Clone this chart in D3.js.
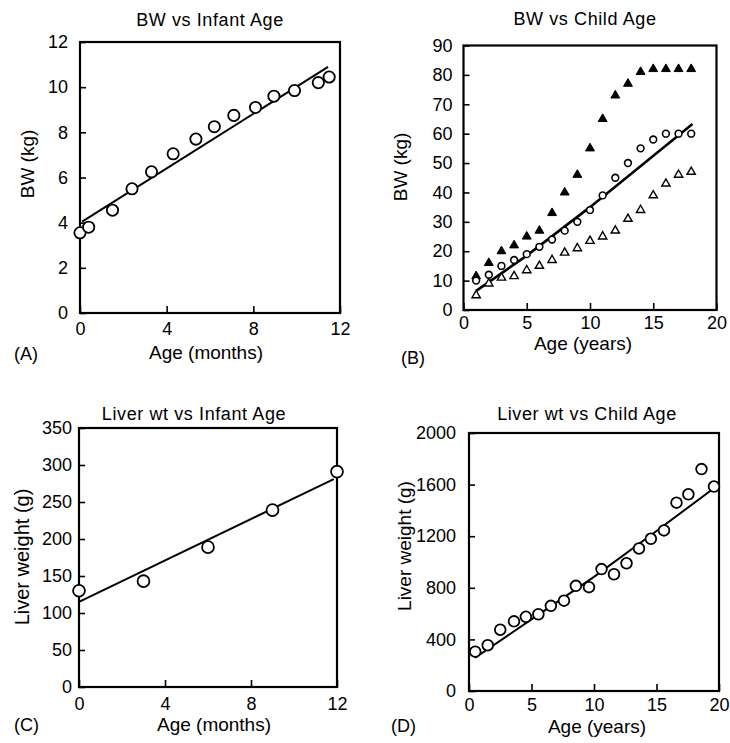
<!DOCTYPE html>
<html>
<head>
<meta charset="utf-8">
<script src="https://cdn.jsdelivr.net/npm/d3@7"></script>
<style>
  html, body { margin: 0; padding: 0; background: #fff; }
  svg { display: block; font-family: "Liberation Sans", Arial, Helvetica, sans-serif; }
  .tick text { font-size: 18px; fill: #000; }
  .tick line { stroke: #000; stroke-width: 1.6; }
  .title { font-size: 18px; letter-spacing: 0.6px; }
  .axis-label { font-size: 19px; }
  .panel-tag { font-size: 18px; }
</style>
</head>
<body>
<svg id="chart" width="730" height="743"></svg>
<script>
/* ── Data: (A) BW vs infant age ─────────────────────────────────────────── */
const infantAgeA = [0, 0.4, 1.5, 2.4, 3.3, 4.3, 5.35, 6.2, 7.1, 8.1, 8.95, 9.9, 11.0, 11.5];
const infantBW   = [3.55, 3.8, 4.55, 5.5, 6.25, 7.05, 7.7, 8.25, 8.75, 9.1, 9.6, 9.85, 10.2, 10.45];
const fitA = [[0.1, 4.05], [11.45, 10.9]];

/* ── Data: (B) BW vs child age ──────────────────────────────────────────── */
const childAgeB  = [1, 2, 3, 4, 5, 6, 7, 8, 9, 10, 11, 12, 13, 14, 15, 16, 17, 18];
const bwHigh     = [11.5, 16, 20, 22, 25, 27, 33, 40, 46, 55, 65, 73, 77, 81, 82, 82, 82, 82];
const bwMid      = [10, 12, 15, 17, 19, 21.5, 24, 27, 30, 34, 39, 45, 50, 55, 58, 60, 60, 60];
const bwLow      = [5, 9, 11, 11.5, 13.5, 15, 17, 19.5, 21, 23.5, 25, 27, 31, 34, 39, 43, 46, 47];
const fitB = [[1, 6.5], [5, 18.5], [10, 35], [18.1, 63.3]];

/* ── Data: (C) liver weight vs infant age ───────────────────────────────── */
const infantAgeC = [0, 3, 6, 9, 12];
const liverInfant = [130, 143, 189, 239, 291];
const fitC = [[0, 115], [11.85, 281]];

/* ── Data: (D) liver weight vs child age ────────────────────────────────── */
const childAgeD = [0.5, 1.5, 2.5, 3.6, 4.55, 5.55, 6.55, 7.6, 8.55, 9.6,
                   10.6, 11.6, 12.6, 13.6, 14.55, 15.6, 16.6, 17.55, 18.6, 19.6];
const liverChild = [305, 355, 475, 540, 575, 595, 660, 700, 815, 805,
                    945, 905, 990, 1105, 1180, 1245, 1460, 1525, 1720, 1585];
const fitD = [[0.5, 258], [5, 555], [10, 885], [15, 1240], [19.7, 1580]];

/* ── Tick values ────────────────────────────────────────────────────────── */
const ticksAx = [0, 4, 8, 12], ticksAy = [0, 2, 4, 6, 8, 10, 12];
const ticksBx = [0, 5, 10, 15, 20], ticksBy = [0, 10, 20, 30, 40, 50, 60, 70, 80, 90];
const ticksCx = [0, 4, 8, 12], ticksCy = [0, 50, 100, 150, 200, 250, 300, 350];
const ticksDx = [0, 5, 10, 15, 20], ticksDy = [0, 400, 800, 1200, 1600, 2000];

const svg = d3.select("#chart");
const fmt = d3.format("d");

/* ── Panel builder ──────────────────────────────────────────────────────── */
function panel(p) {
  const x = d3.scaleLinear().domain(p.xDomain).range(p.xRange);
  const y = d3.scaleLinear().domain(p.yDomain).range(p.yRange);
  const g = svg.append("g");

  const [x0, x1] = p.xRange, [y0, y1] = p.yRange;

  g.append("g")
    .attr("transform", `translate(${x0},0)`)
    .call(d3.axisLeft(y).tickValues(p.yTicks).tickFormat(fmt).tickSize(-6).tickPadding(p.yPad))
    .call(a => a.select(".domain").remove());

  g.append("g")
    .attr("transform", `translate(0,${y0})`)
    .call(d3.axisBottom(x).tickValues(p.xTicks).tickFormat(fmt).tickSize(-7).tickPadding(p.xPad))
    .call(a => a.select(".domain").remove());

  g.append("rect")
    .attr("x", x0).attr("y", y1)
    .attr("width", x1 - x0).attr("height", y0 - y1)
    .attr("fill", "none").attr("stroke", "#000").attr("stroke-width", 2.2);

  // fitted line
  g.append("path")
    .datum(p.fit)
    .attr("fill", "none").attr("stroke", "#000").attr("stroke-width", p.lineWidth)
    .attr("d", d3.line().x(d => x(d[0])).y(d => y(d[1])));

  // markers
  p.series.forEach(s => {
    const pts = s.xs.map((v, i) => [v, s.ys[i]]);
    g.append("g").selectAll("path")
      .data(pts)
      .join("path")
      .attr("transform", d => `translate(${x(d[0])},${y(d[1])})`)
      .attr("d", d3.symbol().type(s.type).size(s.size))
      .attr("fill", s.filled ? "#000" : "#fff")
      .attr("stroke", "#000")
      .attr("stroke-width", s.stroke);
  });

  // texts
  g.append("text").attr("class", "title")
    .attr("x", p.title[1]).attr("y", p.title[2])
    .attr("text-anchor", "middle").text(p.title[0]);

  g.append("text").attr("class", "axis-label")
    .attr("x", p.xLabel[1]).attr("y", p.xLabel[2])
    .attr("text-anchor", "middle").text(p.xLabel[0]);

  g.append("text").attr("class", "axis-label")
    .attr("transform", `translate(${p.yLabel[1]},${p.yLabel[2]}) rotate(-90)`)
    .attr("text-anchor", "middle")
    .style("font-size", p.yLabel[3] + "px")
    .text(p.yLabel[0]);

  g.append("text").attr("class", "panel-tag")
    .attr("x", p.tag[1]).attr("y", p.tag[2]).text(p.tag[0]);
}

/* ── (A) ────────────────────────────────────────────────────────────────── */
panel({
  xDomain: [0, 12], xRange: [80, 340], yDomain: [0, 12], yRange: [313, 42],
  xTicks: ticksAx, yTicks: ticksAy, xPad: 9, yPad: 12, lineWidth: 2,
  fit: fitA,
  series: [{ xs: infantAgeA, ys: infantBW, type: d3.symbolCircle, size: 100, filled: false, stroke: 1.8 }],
  title: ["BW vs Infant Age", 210, 26],
  xLabel: ["Age (months)", 206, 359],
  yLabel: ["BW (kg)", 34, 164, 19],
  tag: ["(A)", 14, 360],
});

/* ── (B) ────────────────────────────────────────────────────────────────── */
panel({
  xDomain: [0, 20], xRange: [463.5, 716.5], yDomain: [0, 90], yRange: [310, 45.5],
  xTicks: ticksBx, yTicks: ticksBy, xPad: 6, yPad: 11, lineWidth: 2.6,
  fit: fitB,
  series: [
    { xs: childAgeB, ys: bwHigh, type: d3.symbolTriangle, size: 34, filled: true,  stroke: 1 },
    { xs: childAgeB, ys: bwMid,  type: d3.symbolCircle,   size: 36, filled: false, stroke: 1.6 },
    { xs: childAgeB, ys: bwLow,  type: d3.symbolTriangle, size: 30, filled: false, stroke: 1.4 },
  ],
  title: ["BW vs Child Age", 585, 25],
  xLabel: ["Age (years)", 583, 350],
  yLabel: ["BW (kg)", 407, 167, 19],
  tag: ["(B)", 401, 364],
});

/* ── (C) ────────────────────────────────────────────────────────────────── */
panel({
  xDomain: [0, 12], xRange: [79, 337], yDomain: [0, 350], yRange: [687, 428],
  xTicks: ticksCx, yTicks: ticksCy, xPad: 10, yPad: 7, lineWidth: 2,
  fit: fitC,
  series: [{ xs: infantAgeC, ys: liverInfant, type: d3.symbolCircle, size: 110, filled: false, stroke: 1.8 }],
  title: ["Liver wt vs Infant Age", 194, 420],
  xLabel: ["Age (months)", 214, 731],
  yLabel: ["Liver weight (g)", 29, 557, 20],
  tag: ["(C)", 14, 731],
});

/* ── (D) ────────────────────────────────────────────────────────────────── */
panel({
  xDomain: [0, 20], xRange: [469, 719], yDomain: [0, 2000], yRange: [691, 433],
  xTicks: ticksDx, yTicks: ticksDy, xPad: 7, yPad: 13, lineWidth: 2,
  fit: fitD,
  series: [{ xs: childAgeD, ys: liverChild, type: d3.symbolCircle, size: 90, filled: false, stroke: 1.8 }],
  title: ["Liver wt vs Child Age", 587, 420],
  xLabel: ["Age (years)", 597, 733],
  yLabel: ["Liver weight (g)", 411, 546, 19],
  tag: ["(D)", 391, 732],
});
</script>
</body>
</html>
